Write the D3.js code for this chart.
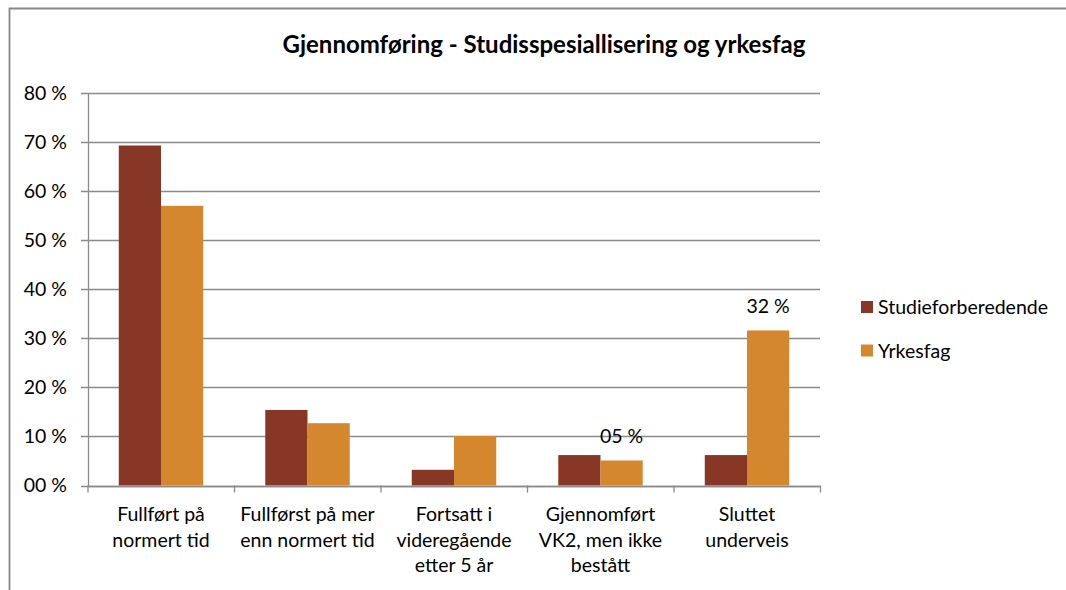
<!DOCTYPE html>
<html>
<head>
<meta charset="utf-8">
<script src="https://cdn.jsdelivr.net/npm/d3@7"></script>
<style>
  body { margin: 0; background: #fff; }
  svg { font-family: Lato, "Open Sans", sans-serif; }
</style>
</head>
<body>
<div id="chart"></div>
<script>
// Data
const categories = [
    ["Fullført på", "normert tid"],
    ["Fullførst på mer", "enn normert tid"],
    ["Fortsatt i", "videregående", "etter 5 år"],
    ["Gjennomført", "VK2, men ikke", "bestått"],
    ["Sluttet", "underveis"]
];
const seriesNames = ["Studieforberedende", "Yrkesfag"];
const studieforberedende = [69.3, 15.4, 3.2, 6.2, 6.2];
const yrkesfag = [57.0, 12.7, 10.1, 5.1, 31.6];
const yTicks = [0, 10, 20, 30, 40, 50, 60, 70, 80];
// data labels shown in the reference (series, category index)
const dataLabels = [
    { series: 1, index: 3 },
    { series: 1, index: 4 }
];

const colors = d3.scaleOrdinal()
    .domain(seriesNames)
    .range(["#883626", "#D5872E"]);

const W = 1066, H = 590;
const plot = { left: 88, right: 820, top: 93, bottom: 485.5 };
const fontSize = "19.5px";

const svg = d3.select("#chart")
    .append("svg")
    .attr("width", W)
    .attr("height", H);

// chart border (only top and left are visible in the crop)
svg.append("path")
    .attr("d", `M9.5,${H + 5}V8.5H${W + 5}`)
    .attr("fill", "none")
    .attr("stroke", "#888")
    .attr("stroke-width", 1.8);

svg.append("text")
    .attr("x", 544)
    .attr("y", 53)
    .attr("text-anchor", "middle")
    .style("font-size", "24px")
    .style("font-weight", "bold")
    .style("fill", "#000")
    .text("Gjennomføring - Studisspesiallisering og yrkesfag");

const x0 = d3.scaleBand()
    .domain(d3.range(categories.length))
    .range([plot.left, plot.right])
    .paddingInner(0.4235)
    .paddingOuter(0.21);

const x1 = d3.scaleBand()
    .domain(seriesNames)
    .range([0, x0.bandwidth()]);

const y = d3.scaleLinear()
    .domain([0, 80])
    .range([plot.bottom, plot.top]);

const fmt = d => d3.format("02d")(Math.round(d)) + " %";

// gridlines
svg.append("g")
    .selectAll("line")
    .data(yTicks)
    .join("line")
    .attr("x1", plot.left - 7)
    .attr("x2", plot.right)
    .attr("y1", d => Math.round(y(d)) + 0.5)
    .attr("y2", d => Math.round(y(d)) + 0.5)
    .attr("stroke", "#8a8a8a")
    .attr("stroke-width", 1.3);

// y axis
const yAxis = svg.append("g")
    .attr("transform", `translate(${plot.left},0)`)
    .call(d3.axisLeft(y).tickValues(yTicks).tickFormat(fmt).tickSize(0).tickPadding(21));
yAxis.select(".domain").attr("stroke", "#8a8a8a").attr("stroke-width", 1.3);
yAxis.selectAll("text")
    .style("font-family", "Lato, 'Open Sans', sans-serif")
    .style("font-size", fontSize)
    .style("fill", "#000");

// bars
const rows = seriesNames.map((name, s) => ({
    name,
    values: s === 0 ? studieforberedende : yrkesfag
}));

svg.append("g")
    .selectAll("g")
    .data(rows)
    .join("g")
    .attr("fill", d => colors(d.name))
    .selectAll("rect")
    .data(d => d.values.map((v, i) => ({ name: d.name, v, i })))
    .join("rect")
    .attr("x", d => x0(d.i) + x1(d.name))
    .attr("y", d => y(d.v))
    .attr("width", x1.bandwidth())
    .attr("height", d => y(0) - y(d.v));

// x axis with ticks between categories
const xAxis = svg.append("g");
xAxis.append("line")
    .attr("x1", plot.left)
    .attr("x2", plot.right)
    .attr("y1", Math.round(y(0)) + 0.5)
    .attr("y2", Math.round(y(0)) + 0.5)
    .attr("stroke", "#8a8a8a")
    .attr("stroke-width", 1.3);
xAxis.selectAll(".tick")
    .data(d3.range(categories.length + 1))
    .join("line")
    .attr("class", "tick")
    .attr("x1", i => plot.left + i * x0.step())
    .attr("x2", i => plot.left + i * x0.step())
    .attr("y1", y(0))
    .attr("y2", y(0) + 7)
    .attr("stroke", "#8a8a8a")
    .attr("stroke-width", 1.3);

xAxis.selectAll(".cat")
    .data(categories)
    .join("text")
    .attr("class", "cat")
    .attr("text-anchor", "middle")
    .style("font-size", fontSize)
    .style("fill", "#000")
    .attr("transform", (d, i) => `translate(${x0(i) + x0.bandwidth() / 2},521)`)
    .selectAll("tspan")
    .data(d => d)
    .join("tspan")
    .attr("x", 0)
    .attr("y", (d, j) => j * 25.5)
    .text(d => d);

// data labels
svg.append("g")
    .selectAll("text")
    .data(dataLabels)
    .join("text")
    .attr("text-anchor", "middle")
    .attr("x", d => x0(d.index) + x1(seriesNames[d.series]) + x1.bandwidth() / 2)
    .attr("y", d => y(rows[d.series].values[d.index]) - 17)
    .style("font-size", fontSize)
    .style("fill", "#000")
    .text(d => fmt(rows[d.series].values[d.index]));

// legend
const legend = svg.append("g")
    .selectAll("g")
    .data(seriesNames)
    .join("g")
    .attr("transform", (d, i) => `translate(861,${301 + i * 43.5})`);
legend.append("rect")
    .attr("width", 12)
    .attr("height", 12)
    .attr("fill", d => colors(d));
legend.append("text")
    .attr("x", 17)
    .attr("y", 13)
    .style("font-size", fontSize)
    .style("fill", "#000")
    .text(d => d);
</script>
</body>
</html>
